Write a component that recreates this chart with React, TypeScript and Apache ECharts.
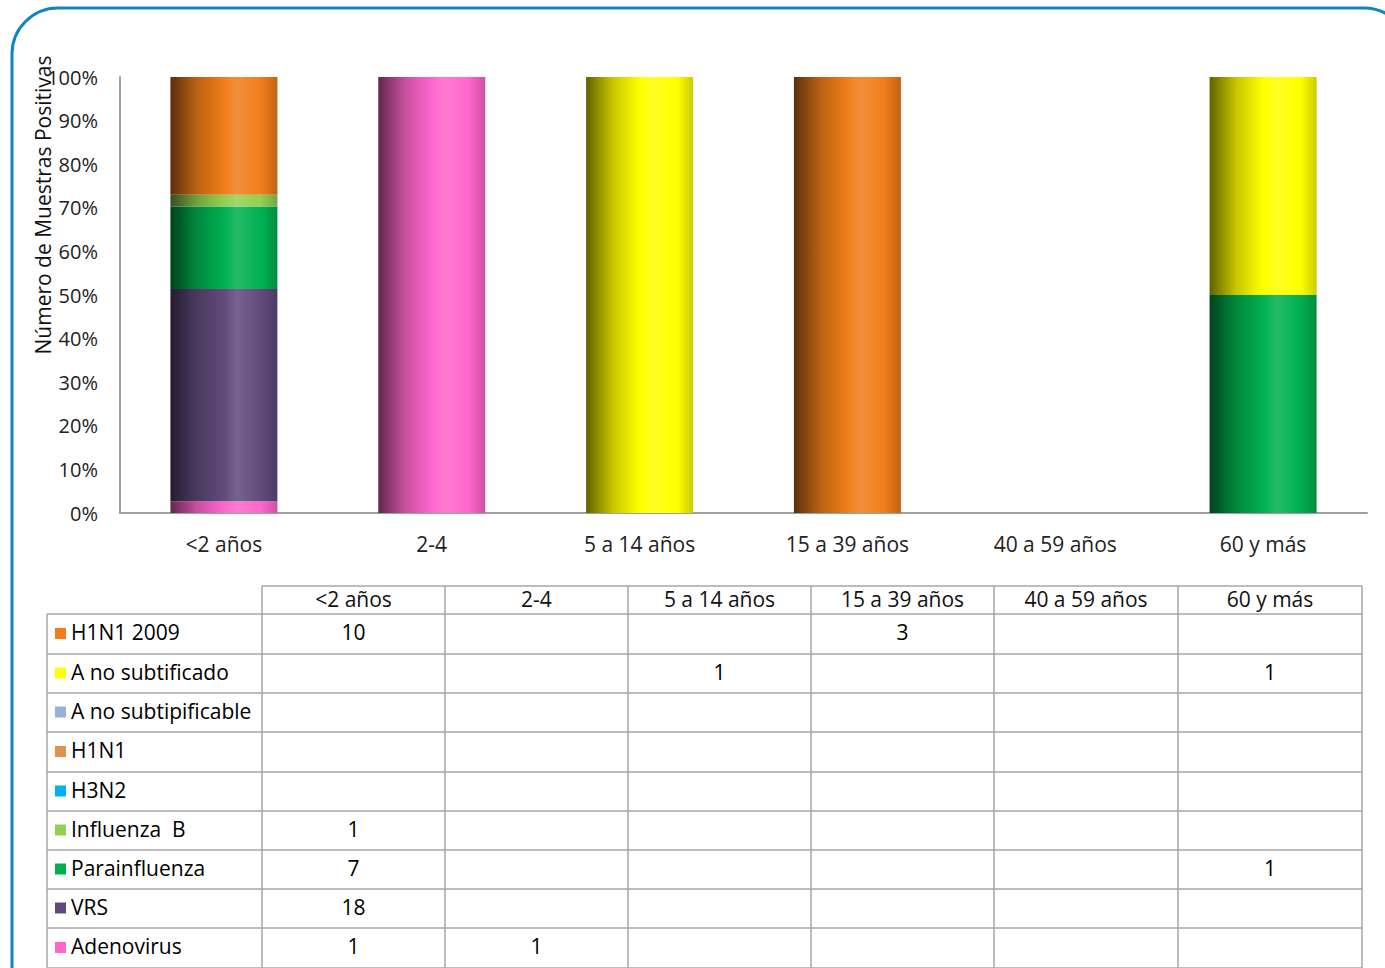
import React, { useEffect, useRef } from "react";
import * as echarts from "echarts";

const categories = ["<2 años", "2-4", "5 a 14 años", "15 a 39 años", "40 a 59 años", "60 y más"];

// table order (top row first)
const seriesNames = [
  "H1N1 2009",
  "A no subtificado",
  "A no subtipificable",
  "H1N1",
  "H3N2",
  "Influenza  B",
  "Parainfluenza",
  "VRS",
  "Adenovirus",
];

const h1n12009 = [10, null, null, 3, null, null];
const aNoSubtificado = [null, null, 1, null, null, 1];
const aNoSubtipificable = [null, null, null, null, null, null];
const h1n1 = [null, null, null, null, null, null];
const h3n2 = [null, null, null, null, null, null];
const influenzaB = [1, null, null, null, null, null];
const parainfluenza = [7, null, null, null, null, 1];
const vrs = [18, null, null, null, null, null];
const adenovirus = [1, 1, null, null, null, null];

const counts = [h1n12009, aNoSubtificado, aNoSubtipificable, h1n1, h3n2, influenzaB, parainfluenza, vrs, adenovirus];

const colors = ["#F07D1A", "#FFFF00", "#95B3D7", "#E0904F", "#00B0F0", "#92D050", "#00B050", "#604A7B", "#FF66CC"];

const yTicks = [0, 10, 20, 30, 40, 50, 60, 70, 80, 90, 100];

const FONT = "'Open Sans', Lato, sans-serif";
const FS = 21;

function hexToRgb(h: string) {
  const n = parseInt(h.slice(1), 16);
  return [(n >> 16) & 255, (n >> 8) & 255, n & 255];
}
function shade(h: string, f: number) {
  const [r, g, b] = hexToRgb(h);
  const adj = (c: number) => {
    const v = f <= 1 ? c * f : c + (255 - c) * (f - 1);
    return Math.max(0, Math.min(255, Math.round(v)));
  };
  return `rgb(${adj(r)},${adj(g)},${adj(b)})`;
}
function grad(h: string) {
  return new echarts.graphic.LinearGradient(0, 0, 1, 0, [
    { offset: 0, color: shade(h, 0.38) },
    { offset: 0.25, color: shade(h, 0.78) },
    { offset: 0.5, color: shade(h, 1.0) },
    { offset: 0.62, color: shade(h, 1.14) },
    { offset: 0.85, color: shade(h, 1.0) },
    { offset: 1, color: shade(h, 0.8) },
  ]);
}

// table layout
const colEdges = [262, 445, 628, 811, 994, 1178, 1362];
const tableLeft = 47;
const headerTop = 586;
const rowEdges = [614, 654, 693, 732, 772, 811, 850, 889, 928, 968];

export default function App() {
  const ref = useRef<HTMLDivElement>(null);
  useEffect(() => {
    const chart = echarts.init(ref.current!, undefined, { renderer: "svg" });
    const totals = categories.map((_, ci) => counts.reduce((s, arr) => s + (arr[ci] || 0), 0));

    const series: any[] = [];
    for (let i = seriesNames.length - 1; i >= 0; i--) {
      series.push({
        name: seriesNames[i],
        type: "bar",
        stack: "total",
        barWidth: 107,
        data: counts[i].map((v, ci) => (v && totals[ci] ? (v / totals[ci]) * 100 : null)),
        itemStyle: { color: grad(colors[i]) },
      });
    }

    const lineColor = "#A6A6A6";
    const graphics: any[] = [];
    graphics.push({
      type: "rect",
      shape: { x: 12, y: 8, width: 1398, height: 1010, r: 46 },
      style: { fill: "none", stroke: "#0E86C1", lineWidth: 3 },
      silent: true,
    });
    graphics.push({
      type: "text",
      x: 43,
      y: 205,
      rotation: Math.PI / 2,
      style: {
        text: "Número de Muestras Positivas",
        font: `${FS}px ${FONT}`,
        fill: "#111",
        align: "center",
        verticalAlign: "middle",
      },
    });
    const tRight = colEdges[colEdges.length - 1];
    graphics.push({ type: "line", shape: { x1: colEdges[0], y1: headerTop, x2: tRight, y2: headerTop }, style: { stroke: lineColor, lineWidth: 1.5 } });
    rowEdges.forEach((y) => {
      graphics.push({ type: "line", shape: { x1: tableLeft, y1: y, x2: tRight, y2: y }, style: { stroke: lineColor, lineWidth: 1.5 } });
    });
    graphics.push({ type: "line", shape: { x1: tableLeft, y1: rowEdges[0], x2: tableLeft, y2: 968 }, style: { stroke: lineColor, lineWidth: 1.5 } });
    colEdges.forEach((x) => {
      graphics.push({ type: "line", shape: { x1: x, y1: headerTop, x2: x, y2: 968 }, style: { stroke: lineColor, lineWidth: 1.5 } });
    });
    categories.forEach((c, ci) => {
      graphics.push({
        type: "text",
        x: (colEdges[ci] + colEdges[ci + 1]) / 2,
        y: (headerTop + rowEdges[0]) / 2 - 1,
        style: { text: c, font: `${FS}px ${FONT}`, fill: "#111", align: "center", verticalAlign: "middle" },
      });
    });
    seriesNames.forEach((n, ri) => {
      const yc = (rowEdges[ri] + rowEdges[ri + 1]) / 2 - 2;
      graphics.push({ type: "rect", shape: { x: 55, y: yc - 4, width: 11, height: 11 }, style: { fill: colors[ri] } });
      graphics.push({
        type: "text",
        x: 71,
        y: yc,
        style: { text: n, font: `${FS}px ${FONT}`, fill: "#000", align: "left", verticalAlign: "middle" },
      });
      counts[ri].forEach((v, ci) => {
        if (v == null) return;
        graphics.push({
          type: "text",
          x: (colEdges[ci] + colEdges[ci + 1]) / 2,
          y: yc,
          style: { text: String(v), font: `${FS}px ${FONT}`, fill: "#000", align: "center", verticalAlign: "middle" },
        });
      });
    });

    chart.setOption({
      animation: false,
      backgroundColor: "#fff",
      grid: { left: 120, right: 18, top: 77, bottom: 455, containLabel: false },
      xAxis: {
        type: "category",
        data: categories,
        axisLine: { show: true, lineStyle: { color: "#A0A0A0", width: 2 } },
        axisTick: { show: false },
        axisLabel: { margin: 20, fontSize: FS, fontFamily: FONT, color: "#222" },
      },
      yAxis: {
        type: "value",
        min: 0,
        max: 100,
        interval: 10,
        axisLine: { show: true, lineStyle: { color: "#A0A0A0", width: 2 } },
        axisTick: { show: false },
        splitLine: { show: false },
        axisLabel: {
          margin: 22,
          fontSize: 20,
          fontFamily: FONT,
          color: "#222",
          formatter: (v: number) => (yTicks.includes(v) ? `${v}%` : ""),
        },
      },
      series,
      graphic: graphics,
    });
    return () => chart.dispose();
  }, []);
  return <div ref={ref} style={{ position: "fixed", left: 0, top: 0, width: 1385, height: 968 }} />;
}
